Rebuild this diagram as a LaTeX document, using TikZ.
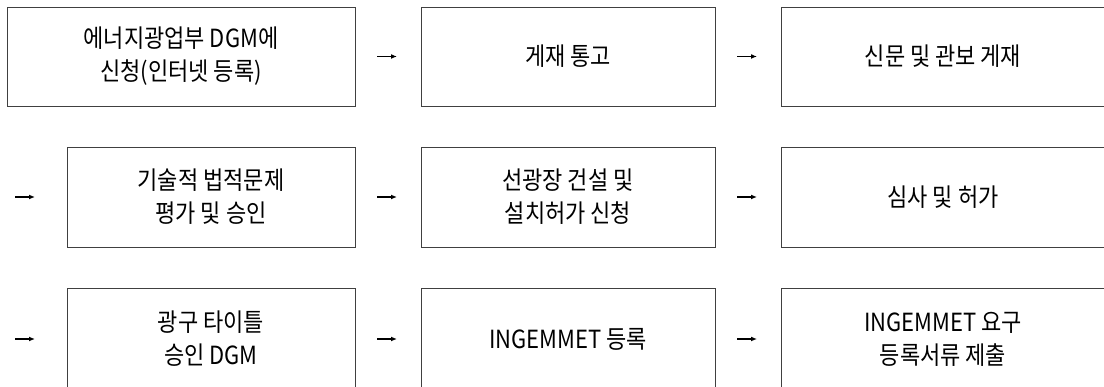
\documentclass[tikz,border=0pt]{standalone}
\usepackage{fontspec}
\setmainfont{Noto Sans CJK KR}[FakeStretch=0.88]
\usetikzlibrary{arrows.meta, positioning}

\begin{document}
\begin{tikzpicture}[
    x=1pt, y=1pt,
    node distance=66pt,
    every node/.style={font=\fontsize{25}{33}\selectfont},
    box/.style={rectangle, draw=black!75, line width=0.9pt, align=center,
                minimum height=100pt, inner sep=0pt, outer sep=0pt},
    widebox/.style={box, minimum width=348pt},
    firstbox/.style={box, minimum width=288pt},
    midbox/.style={box, minimum width=294pt},
    lastbox/.style={box, minimum width=324pt},
    arrow/.style={-{Latex[length=6pt,width=5pt]}, line width=1.3pt,
                  shorten <=22pt, shorten >=24pt}
  ]
  \useasboundingbox (0,0) rectangle (1104,-387);
  \clip (0,0) rectangle (1104,-387);

  % row 1
  \node[widebox, minimum height=99pt, anchor=west] (apply) at (7,-56.5) {에너지광업부 DGM에\\신청(인터넷 등록)};
  \node[midbox, minimum height=99pt, right=of apply] (notice) {게재 통고};
  \node[lastbox, minimum height=99pt, right=of notice] (publish) {신문 및 관보 게재};

  % row 2
  \node[firstbox, anchor=west] (assess) at (67,-197) {기술적 법적문제\\평가 및 승인};
  \node[midbox, right=of assess] (plant) {선광장 건설 및\\설치허가 신청};
  \node[lastbox, right=of plant] (permit) {심사 및 허가};

  % row 3
  \node[firstbox, minimum height=102pt, anchor=west] (title) at (67,-339) {광구 타이틀\\승인 DGM};
  \node[midbox, minimum height=102pt, right=of title] (register) {INGEMMET 등록};
  \node[lastbox, minimum height=102pt, right=of register] (submit) {INGEMMET 요구\\등록서류 제출};

  \coordinate (in2) at (15,-197);
  \coordinate (in3) at (15,-339);

  \draw[arrow] (apply) -- (notice);
  \draw[arrow] (notice) -- (publish);
  \draw[arrow, shorten <=0pt, shorten >=32pt] (in2) -- (assess);
  \draw[arrow] (assess) -- (plant);
  \draw[arrow] (plant) -- (permit);
  \draw[arrow, shorten <=0pt, shorten >=32pt] (in3) -- (title);
  \draw[arrow] (title) -- (register);
  \draw[arrow] (register) -- (submit);

\end{tikzpicture}
\end{document}
